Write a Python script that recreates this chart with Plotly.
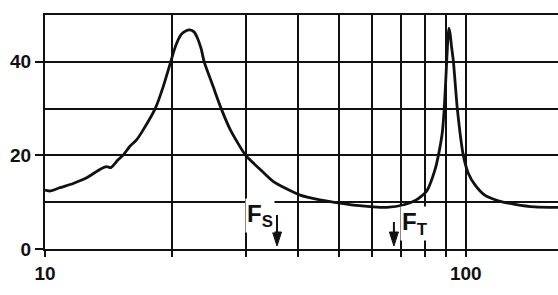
import math
import plotly.graph_objects as go

# Frequency (Hz) and level
freq_hz = [10.0, 10.3, 10.85, 11.67, 12.56, 13.5, 14.0, 14.35, 14.9, 15.35, 15.9, 16.5,
           17.1, 18.3, 19.1, 19.9, 20.3, 20.7, 21.1, 21.6, 22.1, 22.6, 23.0, 23.5, 23.9,
           25.1, 26.2, 27.6, 30.0, 32.3, 34.9, 40.4, 45.0, 50.2, 55.0, 60.3, 64.9, 71.0,
           76.3, 80.8, 84.5, 86.1, 88.0, 88.9, 90.1, 90.7, 91.2, 91.8, 92.6, 93.5, 95.5,
           98.7, 101.4, 105.2, 111.0, 119.5, 131.0, 146.0, 165.7]
level = [12.6, 12.4, 13.1, 14.0, 15.2, 17.0, 17.6, 17.4, 19.0, 20.1, 21.9, 23.3,
         25.4, 30.1, 34.7, 40.0, 42.6, 44.6, 45.9, 46.6, 46.8, 46.4, 45.2, 42.8, 40.0,
         34.7, 30.1, 25.4, 20.0, 17.2, 14.4, 11.5, 10.5, 9.8, 9.3, 9.0, 8.9, 9.4,
         10.5, 12.4, 16.9, 20.0, 25.0, 30.0, 40.0, 45.0, 47.2, 46.0, 43.0, 40.0, 30.0,
         20.0, 16.2, 13.7, 11.5, 10.3, 9.55, 9.0, 8.9]

x_tick_vals = [10, 100]
x_tick_text = ["10", "100"]
x_minor_vals = [20, 30, 40, 50, 60, 70, 80, 90]
y_tick_vals = [0, 20, 40]
y_tick_text = ["0", "20", "40"]

fs_hz = 35.6   # F_S marker
ft_hz = 67.5   # F_T marker

x_max_hz = 165.7
y_max = 50

FONT = "Liberation Sans, Arial, sans-serif"
INK = "#111111"

fig = go.Figure()
fig.add_trace(go.Scatter(x=freq_hz, y=level, mode="lines",
                         line=dict(color=INK, width=2.8, shape="spline", smoothing=0.6),
                         hoverinfo="skip"))

axis_common = dict(showgrid=True, gridcolor=INK, gridwidth=2, zeroline=False,
                   showline=True, linecolor=INK, linewidth=2,
                   ticks="outside", tickcolor=INK, tickwidth=2,
                   tickfont=dict(family=FONT, size=19, color=INK, weight="bold"))

fig.update_xaxes(type="log", range=[math.log10(10), math.log10(x_max_hz)],
                 tickmode="array", tickvals=x_tick_vals, ticktext=x_tick_text,
                 ticklen=6, mirror=True,
                 minor=dict(tickmode="array", tickvals=x_minor_vals, showgrid=True,
                            gridcolor=INK, gridwidth=2, ticks="outside", ticklen=6,
                            tickwidth=2, tickcolor=INK),
                 **axis_common)
fig.update_yaxes(range=[0, y_max], tickmode="array", tickvals=y_tick_vals,
                 ticktext=y_tick_text, ticklen=8,
                 minor=dict(dtick=10, tick0=0, showgrid=True, gridcolor=INK,
                            gridwidth=2, ticks=""),
                 **axis_common)

label_font = dict(family=FONT, size=24, color=INK, weight="bold")
fig.add_annotation(x=math.log10(fs_hz), y=10, xref="x", yref="y", text="F<sub>S</sub>",
                   showarrow=False, xanchor="right", yanchor="top", xshift=-2, yshift=4,
                   bgcolor="white", font=label_font, borderpad=1)
fig.add_annotation(x=math.log10(ft_hz), y=10, xref="x", yref="y", text="F<sub>T</sub>",
                   showarrow=False, xanchor="left", yanchor="top", xshift=6, yshift=-4,
                   bgcolor="white", font=label_font, borderpad=1)

for f, top in [(fs_hz, 34), (ft_hz, 27)]:
    fig.add_shape(type="line", xref="x", yref="y", xsizemode="pixel", ysizemode="pixel",
                  xanchor=f, yanchor=0, x0=0, x1=0, y0=14, y1=top,
                  line=dict(color=INK, width=2))
    fig.add_shape(type="path", xref="x", yref="y", xsizemode="pixel", ysizemode="pixel",
                  xanchor=f, yanchor=0, path="M0,3 L-4.5,17 L4.5,17 Z",
                  fillcolor=INK, line=dict(color=INK, width=1))

fig.update_layout(width=558, height=295, margin=dict(l=45, r=0, t=15, b=46),
                  paper_bgcolor="white", plot_bgcolor="white", showlegend=False)

fig.write_html("out.html")
